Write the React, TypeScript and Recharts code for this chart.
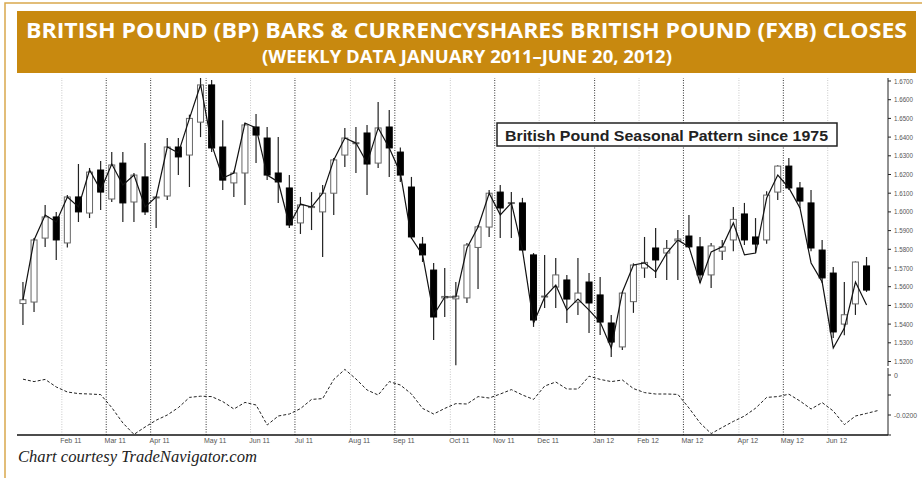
import React from 'react';
import { ComposedChart, Bar, Line, XAxis, YAxis, ReferenceLine } from 'recharts';

// weekly BP bars, Jan 7 2011 .. Jun 15 2012
const opens = [1.551, 1.5518, 1.586, 1.5973, 1.5834, 1.608, 1.5994, 1.6224, 1.6069, 1.6261, 1.6053, 1.6187, 1.6075, 1.6085, 1.6347, 1.6304, 1.648, 1.6679, 1.6347, 1.6155, 1.6208, 1.6454, 1.6395, 1.6208, 1.6128, 1.5941, 1.6023, 1.6, 1.61, 1.6304, 1.6365, 1.6422, 1.6261, 1.6454, 1.632, 1.6133, 1.5828, 1.5689, 1.554, 1.5535, 1.554, 1.581, 1.5919, 1.6106, 1.6045, 1.6048, 1.577, 1.5545, 1.5598, 1.5636, 1.5518, 1.5625, 1.5556, 1.5406, 1.5278, 1.552, 1.57, 1.5807, 1.578, 1.5845, 1.5871, 1.5813, 1.5663, 1.579, 1.585, 1.5989, 1.5866, 1.585, 1.6106, 1.6245, 1.6128, 1.6048, 1.5796, 1.5673, 1.54, 1.5508, 1.5711];
const highs = [1.5625, 1.586, 1.6037, 1.6, 1.609, 1.6256, 1.6235, 1.6272, 1.632, 1.632, 1.6208, 1.6368, 1.6085, 1.6395, 1.6395, 1.652, 1.6716, 1.6705, 1.649, 1.622, 1.6475, 1.6524, 1.6454, 1.64, 1.6197, 1.608, 1.6106, 1.6144, 1.6288, 1.6449, 1.6454, 1.6465, 1.6588, 1.6545, 1.6345, 1.6187, 1.5866, 1.5727, 1.57, 1.5625, 1.5834, 1.593, 1.6117, 1.6144, 1.6106, 1.6075, 1.578, 1.577, 1.5754, 1.5663, 1.5754, 1.5673, 1.5652, 1.5449, 1.557, 1.5725, 1.5866, 1.5914, 1.585, 1.5903, 1.5984, 1.5866, 1.5834, 1.585, 1.6026, 1.6048, 1.5967, 1.611, 1.625, 1.6288, 1.616, 1.6117, 1.585, 1.5705, 1.5625, 1.5735, 1.5759];
const lows = [1.5395, 1.5465, 1.5812, 1.5743, 1.581, 1.5946, 1.5967, 1.601, 1.6053, 1.5946, 1.5946, 1.5984, 1.5914, 1.6064, 1.6197, 1.6133, 1.64, 1.632, 1.6117, 1.608, 1.6037, 1.6261, 1.617, 1.6048, 1.5914, 1.5882, 1.5903, 1.5759, 1.5984, 1.624, 1.6208, 1.609, 1.6235, 1.6187, 1.616, 1.5855, 1.5732, 1.5315, 1.5438, 1.518, 1.5513, 1.5588, 1.5866, 1.586, 1.586, 1.579, 1.5385, 1.5486, 1.5486, 1.5406, 1.5449, 1.5352, 1.5342, 1.5224, 1.5262, 1.546, 1.5647, 1.5647, 1.5636, 1.5636, 1.5807, 1.562, 1.5593, 1.5743, 1.579, 1.5823, 1.578, 1.583, 1.6064, 1.6117, 1.602, 1.579, 1.562, 1.5326, 1.534, 1.5449, 1.5572];
const closes = [1.553, 1.585, 1.5973, 1.585, 1.608, 1.6, 1.6213, 1.6106, 1.6251, 1.6048, 1.6197, 1.6, 1.608, 1.6347, 1.6294, 1.65, 1.6679, 1.6342, 1.617, 1.6208, 1.6465, 1.6411, 1.6197, 1.616, 1.593, 1.6037, 1.6029, 1.61, 1.6278, 1.6395, 1.637, 1.6256, 1.6449, 1.6342, 1.6197, 1.5866, 1.577, 1.5438, 1.5548, 1.555, 1.5823, 1.592, 1.61, 1.6021, 1.605, 1.5796, 1.5422, 1.555, 1.5663, 1.5534, 1.5566, 1.5513, 1.5411, 1.5304, 1.5566, 1.5716, 1.573, 1.5743, 1.5805, 1.5855, 1.5813, 1.5663, 1.5818, 1.5813, 1.596, 1.585, 1.5828, 1.609, 1.6245, 1.6128, 1.6058, 1.5807, 1.5647, 1.5358, 1.545, 1.5732, 1.5582];

// FXB closes, plotted on the BP price scale
const fxbCloses = [1.5529, 1.585, 1.5983, 1.5946, 1.608, 1.6026, 1.6224, 1.6117, 1.6256, 1.6144, 1.6197, 1.6026, 1.608, 1.6347, 1.6315, 1.65, 1.668, 1.636, 1.6181, 1.6208, 1.6475, 1.6449, 1.6197, 1.616, 1.593, 1.6042, 1.6026, 1.61, 1.6278, 1.6395, 1.6368, 1.6261, 1.6449, 1.6342, 1.6208, 1.586, 1.577, 1.5449, 1.5545, 1.5545, 1.5807, 1.5919, 1.61, 1.5984, 1.6048, 1.5796, 1.5406, 1.5545, 1.5609, 1.5475, 1.5534, 1.5475, 1.5411, 1.5272, 1.5572, 1.5716, 1.5727, 1.5679, 1.578, 1.585, 1.5813, 1.562, 1.5786, 1.5813, 1.5941, 1.577, 1.578, 1.6074, 1.6197, 1.6128, 1.6021, 1.5727, 1.5625, 1.5272, 1.5379, 1.5625, 1.5502];

// seasonal pattern since 1975 (lower panel), one week longer
const seasonal = [-0.0021, -0.0033, -0.0022, -0.006, -0.0085, -0.0093, -0.0095, -0.0098, -0.0163, -0.024, -0.0297, -0.026, -0.0226, -0.02, -0.0163, -0.0112, -0.0106, -0.0108, -0.0133, -0.017, -0.0137, -0.015, -0.025, -0.0205, -0.0195, -0.0168, -0.0122, -0.0118, -0.0022, 0.0028, -0.002, -0.0075, -0.01, -0.0033, -0.005, -0.0095, -0.0167, -0.0195, -0.0167, -0.0143, -0.0145, -0.0108, -0.0115, -0.0095, -0.0073, -0.01, -0.0122, -0.0055, -0.0035, -0.007, -0.007, -0.0006, -0.0022, -0.0033, -0.0025, -0.0068, -0.0088, -0.0095, -0.0095, -0.0097, -0.0165, -0.024, -0.0293, -0.0262, -0.0232, -0.0205, -0.0166, -0.0112, -0.0108, -0.0096, -0.013, -0.017, -0.0138, -0.018, -0.0248, -0.0205, -0.0192, -0.0178];

const monthLabels = ['Feb 11', 'Mar 11', 'Apr 11', 'May 11', 'Jun 11', 'Jul 11', 'Aug 11', 'Sep 11', 'Oct 11', 'Nov 11', 'Dec 11', 'Jan 12', 'Feb 12', 'Mar 12', 'Apr 12', 'May 12', 'Jun 12'];
const monthStartWeek = [4, 8, 12, 17, 21, 25, 30, 34, 39, 43, 47, 52, 56, 60, 65, 69, 73];
const darkLine = [false, true, true, true, false, true, false, true, false, true, false, true, false, true, false, true, false];

const priceTicks = [1.52, 1.53, 1.54, 1.55, 1.56, 1.57, 1.58, 1.59, 1.6, 1.61, 1.62, 1.63, 1.64, 1.65, 1.66, 1.67];
const seasonTicks = [-0.03, -0.02, -0.01, 0];

const data = seasonal.map((s, i) => ({
  i,
  o: opens[i],
  h: highs[i],
  l: lows[i],
  c: closes[i],
  fxb: fxbCloses[i],
  season: s,
}));

const X_DOMAIN: [number, number] = [-0.54, 77.93];
const GOLD = '#C8890F';
const AXIS_FONT = 'Liberation Sans, Arial, sans-serif';

const Candle = (props: any) => {
  const { x, y, width, height, payload } = props;
  if (payload == null || payload.o == null) return null;
  const { o, h, l, c } = payload;
  const top = Math.min(y, y + height);
  const hgt = Math.abs(height);
  const ppu = hgt / (h - l || 1);
  const yOf = (v: number) => top + (h - v) * ppu;
  const cx = x + width / 2;
  const bTop = yOf(Math.max(o, c));
  const bBot = yOf(Math.min(o, c));
  const up = c >= o;
  return (
    <g>
      <line x1={cx} x2={cx} y1={top} y2={top + hgt} stroke="#222" strokeWidth={1.2} />
      <rect
        x={x + 0.5}
        y={bTop}
        width={width - 1}
        height={Math.max(bBot - bTop, 1)}
        fill={up ? '#fff' : '#000'}
        stroke={up ? '#666' : '#000'}
        strokeWidth={1}
      />
    </g>
  );
};

const MonthTick = (props: any) => {
  const { x, y, payload } = props;
  const k = monthStartWeek.findIndex((w) => Math.abs(w - 0.5 - payload.value) < 0.01);
  return (
    <text x={x + 9} y={y + 6} textAnchor="middle" fontSize={7} fill="#555" fontFamily={AXIS_FONT}>
      {k >= 0 ? monthLabels[k] : ''}
    </text>
  );
};

// narrow tick text, like the condensed face in the original
const PriceTick = (props: any) => {
  const { x, y, payload } = props;
  const label = payload.value.toFixed(4);
  return (
    <text x={x + 1} y={y + 2.5} fontSize={7} fill="#555" fontFamily={AXIS_FONT} textLength={19} lengthAdjust="spacingAndGlyphs">
      {label}
    </text>
  );
};

const SeasonTick = (props: any) => {
  const { x, y, payload } = props;
  const v = payload.value;
  if (v === 0) {
    return (
      <text x={x + 1} y={y + 2.5} fontSize={7} fill="#555" fontFamily={AXIS_FONT}>
        0
      </text>
    );
  }
  if (Math.abs(v + 0.02) > 1e-9) return null;
  return (
    <text x={x + 1} y={y + 2.5} fontSize={7} fill="#555" fontFamily={AXIS_FONT} textLength={23} lengthAdjust="spacingAndGlyphs">
      {v.toFixed(4)}
    </text>
  );
};

const monthLines = (keyPrefix: string) =>
  monthStartWeek.map((w, k) => (
    <ReferenceLine
      key={keyPrefix + k}
      x={w - 0.5}
      stroke={darkLine[k] ? '#333' : '#c8c8c8'}
      strokeWidth={1}
      strokeDasharray="1 1.5"
    />
  ));

export default function App() {
  return (
    <div style={{ position: 'absolute', left: 0, top: 0, width: 922, height: 478, background: '#fff', overflow: 'hidden' }}>
      <div style={{ position: 'absolute', left: 0, top: 78 }}>
        <ComposedChart width={922} height={288} data={data} margin={{ top: 0, right: 0, bottom: 0, left: 17 }}>
          <XAxis dataKey="i" type="number" domain={X_DOMAIN} allowDataOverflow hide />
          <YAxis
            orientation="right"
            type="number"
            domain={[1.5176, 1.6716]}
            allowDataOverflow
            ticks={priceTicks}
            interval={0}
            width={34}
            tickSize={3}
            tickMargin={2}
            tick={<PriceTick />}
            axisLine={{ stroke: '#222' }}
            tickLine={{ stroke: '#222' }}
          />
          {monthLines('u')}
          <Bar
            dataKey={(d: any) => (d.o == null ? null : [d.l, d.h])}
            barSize={7}
            shape={<Candle />}
            isAnimationActive={false}
          />
          <Line
            dataKey="fxb"
            type="linear"
            stroke="#111"
            strokeWidth={1.2}
            dot={false}
            isAnimationActive={false}
          />
        </ComposedChart>
      </div>
      <div style={{ position: 'absolute', left: 0, top: 368 }}>
        <ComposedChart width={922} height={83} data={data} margin={{ top: 0, right: 0, bottom: 0, left: 17 }}>
          <XAxis
            dataKey="i"
            type="number"
            domain={X_DOMAIN}
            allowDataOverflow
            ticks={monthStartWeek.map((w) => w - 0.5)}
            tick={<MonthTick />}
            tickLine={false}
            tickSize={0}
            tickMargin={2}
            interval={0}
            height={16}
            axisLine={{ stroke: '#111', strokeWidth: 1.5 }}
          />
          <YAxis
            orientation="right"
            type="number"
            domain={[-0.03, 0.0035]}
            allowDataOverflow
            ticks={seasonTicks}
            interval={0}
            width={34}
            tickSize={3}
            tickMargin={2}
            tick={<SeasonTick />}
            axisLine={{ stroke: '#222' }}
            tickLine={{ stroke: '#222' }}
          />
          {monthLines('l')}
          <Line
            dataKey="season"
            type="linear"
            stroke="#222"
            strokeWidth={1}
            strokeDasharray="3 2"
            dot={false}
            isAnimationActive={false}
          />
        </ComposedChart>
      </div>
      <svg width={922} height={478} style={{ position: 'absolute', left: 0, top: 0, pointerEvents: 'none' }}>
        <path d="M5 478 L5 3 L922 3" fill="none" stroke="#D9A84C" strokeWidth={1.5} />
        <rect x={17} y={11} width={899} height={62} fill={GOLD} />
        <text
          x={26}
          y={37.5}
          fontSize={21}
          fontWeight={700}
          fill="#fff"
          fontFamily="Open Sans, Noto Sans, sans-serif"
          textLength={881}
          lengthAdjust="spacingAndGlyphs"
        >
          BRITISH POUND (BP) BARS &amp; CURRENCYSHARES BRITISH POUND (FXB) CLOSES
        </text>
        <text
          x={262}
          y={62.5}
          fontSize={17}
          fontWeight={700}
          fill="#fff"
          fontFamily="Open Sans, Noto Sans, sans-serif"
          textLength={410}
          lengthAdjust="spacingAndGlyphs"
        >
          (WEEKLY DATA JANUARY 2011–JUNE 20, 2012)
        </text>
        <rect x={497} y={123} width={340} height={23} fill="#fff" stroke="#222" strokeWidth={1.5} />
        <text
          x={505}
          y={140.5}
          fontSize={15}
          fontWeight={700}
          fill="#222"
          fontFamily="Liberation Sans, Arial, sans-serif"
          textLength={323}
          lengthAdjust="spacingAndGlyphs"
        >
          British Pound Seasonal Pattern since 1975
        </text>
        <text
          x={18}
          y={462}
          fontSize={17}
          fontStyle="italic"
          fill="#222"
          fontFamily="Liberation Serif, Times New Roman, serif"
          textLength={239}
          lengthAdjust="spacingAndGlyphs"
        >
          Chart courtesy TradeNavigator.com
        </text>
      </svg>
    </div>
  );
}
